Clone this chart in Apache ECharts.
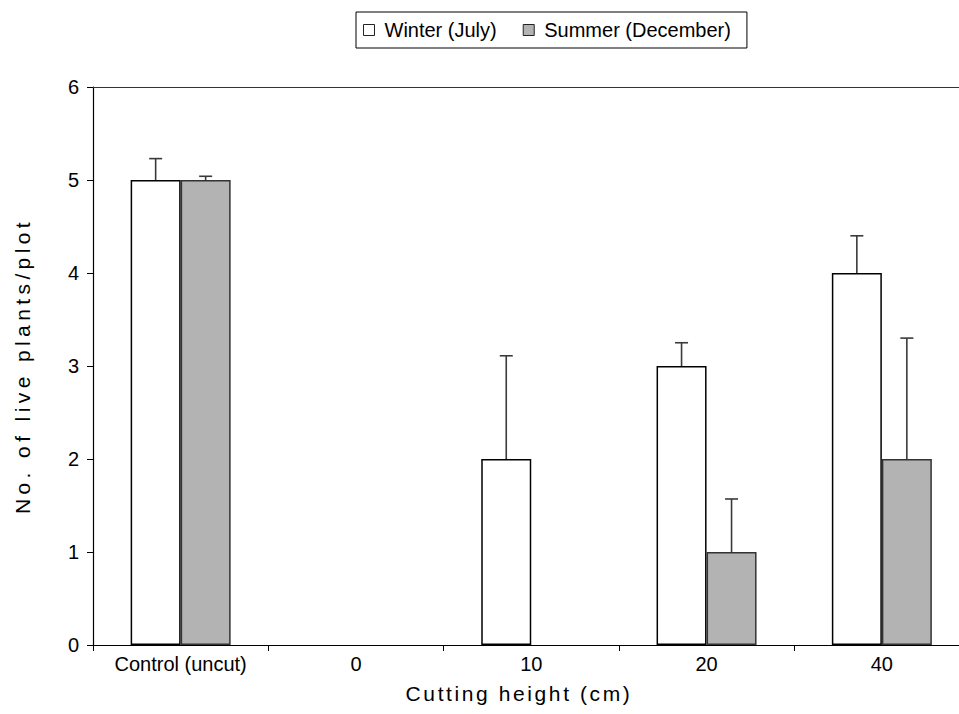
<!DOCTYPE html>
<html>
<head>
<meta charset="utf-8">
<script src="https://cdn.jsdelivr.net/npm/echarts@6/dist/echarts.min.js"></script>
<style>
html,body{margin:0;padding:0;background:#fff;overflow:hidden;width:959px;height:714px;}
#chart{width:980px;height:714px;}
</style>
</head>
<body>
<div id="chart"></div>
<script>
// ---- data ----
const categories = ['Control (uncut)', '0', '10', '20', '40'];
const winterMeans = [5, 0, 2, 3, 4];
const winterErrors = [0.23, 0, 1.11, 0.25, 0.40];
const summerMeans = [5, 0, 0, 1, 2];
const summerErrors = [0.04, 0, 0, 0.57, 1.30];
const yTicks = [0, 1, 2, 3, 4, 5, 6];
const seriesNames = ['Winter (July)', 'Summer (December)'];
const xTitle = 'Cutting height (cm)';
const yTitle = 'No. of live plants/plot';

const BAR_W = 50;
const FONT = '"Liberation Sans", Arial, Helvetica, sans-serif';

function barData(means) {
  return means.map(v => (v === 0 ? { value: v, itemStyle: { borderWidth: 0 } } : v));
}

function errorData(means, errs) {
  return means.map((m, i) => [i, m, m + errs[i], errs[i]]);
}

function makeErrorRender(offset) {
  return function (params, api) {
    const err = api.value(3);
    if (!err) return null;
    const base = api.coord([api.value(0), api.value(1)]);
    const top = api.coord([api.value(0), api.value(2)]);
    const x = base[0] + offset;
    const capHalf = 6.5;
    const style = { stroke: '#3a3a3a', lineWidth: 1.6 };
    return {
      type: 'group',
      children: [
        { type: 'line', shape: { x1: x, y1: base[1], x2: x, y2: top[1] }, style: style },
        { type: 'line', shape: { x1: x - capHalf, y1: top[1], x2: x + capHalf, y2: top[1] }, style: style }
      ]
    };
  };
}

const chart = echarts.init(document.getElementById('chart'), null, { renderer: 'svg' });

chart.setOption({
  animation: false,
  backgroundColor: '#fff',
  textStyle: { fontFamily: FONT },
  legend: {
    left: 356,
    top: 12,
    padding: [8, 16, 8, 7],
    borderColor: '#000',
    borderWidth: 1,
    itemWidth: 11,
    itemHeight: 11,
    itemGap: 26,
    textStyle: { fontSize: 20, color: '#000', fontFamily: FONT, padding: [0, 0, 0, 5] },
    data: [
      { name: seriesNames[0], icon: 'rect', itemStyle: { color: '#fff', borderColor: '#222', borderWidth: 1 } },
      { name: seriesNames[1], icon: 'rect', itemStyle: { color: '#b3b3b3', borderColor: '#222', borderWidth: 1 } }
    ]
  },
  grid: { left: 93, top: 87, width: 876.5, height: 558, containLabel: false },
  xAxis: [
    {
      type: 'category',
      data: categories,
      position: 'bottom',
      boundaryGap: true,
      axisLine: { lineStyle: { color: '#000', width: 1.2 } },
      axisTick: { show: true, inside: false, length: 6, alignWithLabel: false, lineStyle: { color: '#000' } },
      axisLabel: { color: '#000', fontSize: 20, margin: 9, fontFamily: FONT, interval: 0 },
      splitLine: { show: false }
    },
    {
      type: 'category',
      data: categories,
      position: 'top',
      axisLine: { show: true, lineStyle: { color: '#333', width: 1.2 } },
      axisTick: { show: false },
      axisLabel: { show: false },
      splitLine: { show: false }
    }
  ],
  yAxis: {
    type: 'value',
    min: yTicks[0],
    max: yTicks[yTicks.length - 1],
    interval: 1,
    name: yTitle,
    nameLocation: 'middle',
    nameGap: 60,
    nameTextStyle: { color: '#000', fontSize: 21, fontFamily: FONT },
    axisLine: { show: true, lineStyle: { color: '#000', width: 1.2 } },
    axisTick: { show: true, inside: false, length: 6, lineStyle: { color: '#000' } },
    axisLabel: { color: '#000', fontSize: 20, margin: 14, fontFamily: FONT },
    splitLine: { show: false }
  },
  graphic: [
    {
      type: 'text',
      x: 519,
      y: 693,
      style: {
        text: xTitle,
        font: '21px ' + FONT,
        fill: '#000',
        textAlign: 'center',
        textVerticalAlign: 'middle'
      }
    }
  ],
  series: [
    {
      name: seriesNames[0],
      type: 'bar',
      data: barData(winterMeans),
      barWidth: BAR_W,
      barGap: '0%',
      itemStyle: { color: '#fff', borderColor: '#000', borderWidth: 1.5 },
      z: 2
    },
    {
      name: seriesNames[1],
      type: 'bar',
      data: barData(summerMeans),
      barWidth: BAR_W,
      barGap: '0%',
      itemStyle: { color: '#b3b3b3', borderColor: '#333', borderWidth: 1.5 },
      z: 2
    },
    {
      type: 'custom',
      name: 'winterErr',
      data: errorData(winterMeans, winterErrors),
      renderItem: makeErrorRender(-BAR_W / 2),
      encode: { x: 0, y: [1, 2] },
      z: 3,
      silent: true
    },
    {
      type: 'custom',
      name: 'summerErr',
      data: errorData(summerMeans, summerErrors),
      renderItem: makeErrorRender(BAR_W / 2),
      encode: { x: 0, y: [1, 2] },
      z: 3,
      silent: true
    }
  ]
});

// letter tracking for the axis titles, as in the reference
function applyTracking() {
  const texts = document.querySelectorAll('#chart svg text');
  texts.forEach(t => {
    const s = t.textContent;
    if (s === yTitle) t.setAttribute('letter-spacing', '4.4');
    else if (s === xTitle) t.setAttribute('letter-spacing', '2.6');
  });
}
applyTracking();
chart.on('finished', applyTracking);
requestAnimationFrame(applyTracking);
setTimeout(applyTracking, 0);
</script>
</body>
</html>
